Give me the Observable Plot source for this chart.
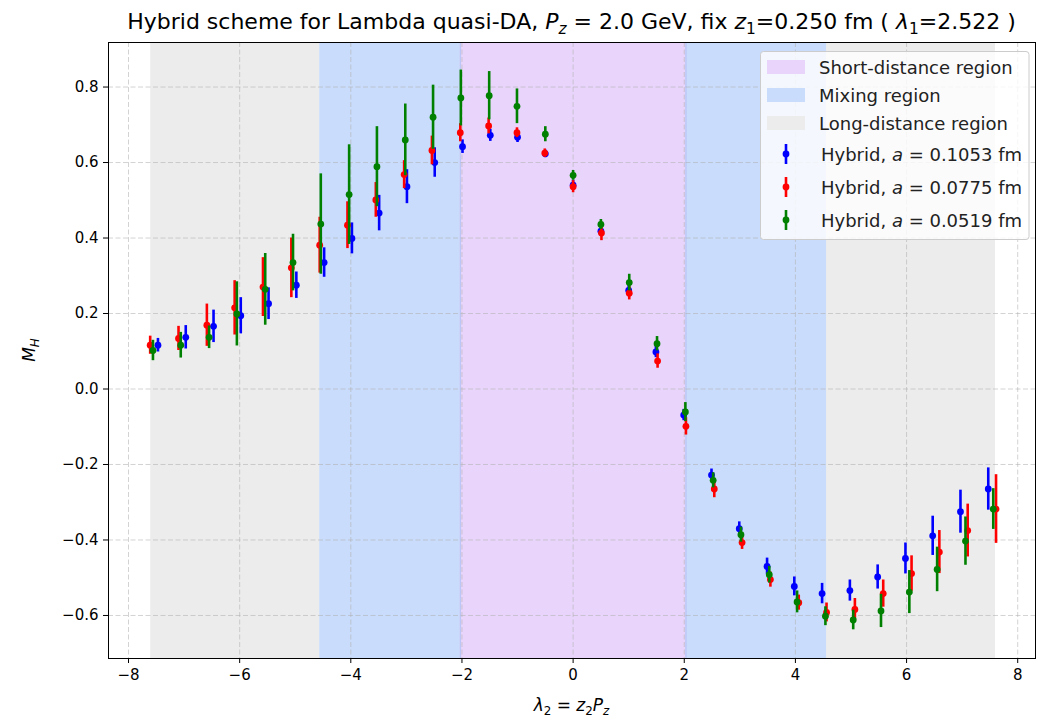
<!DOCTYPE html>
<html><head><meta charset="utf-8">
<script src="https://cdn.jsdelivr.net/npm/d3@7"></script>
<script src="https://cdn.jsdelivr.net/npm/@observablehq/plot@0.6"></script>
<style>
body{margin:0;background:#fff}
#chart svg{font-family:"DejaVu Sans",sans-serif;display:block}
</style>
</head><body><div id="chart"></div>
<script>
// ---- data ----
const xTicks = [-8, -6, -4, -2, 0, 2, 4, 6, 8];
const yTicks = [-0.6, -0.4, -0.2, 0.0, 0.2, 0.4, 0.6, 0.8];
const regionEdges = [-7.6, -4.56, -2.03, 2.03, 4.56, 7.6];
const regionNames = ["Short-distance region", "Mixing region", "Long-distance region"];

const xBlue = [-7.47,-6.97,-6.47,-5.98,-5.48,-4.98,-4.48,-3.98,-3.49,-2.99,-2.49,-1.99,-1.49,-1.00,-0.50,0,0.50,1.00,1.49,1.99,2.49,2.99,3.49,3.98,4.48,4.98,5.48,5.98,6.47,6.97,7.47];
const yBlue = [0.116,0.137,0.166,0.194,0.226,0.275,0.335,0.399,0.466,0.536,0.600,0.642,0.672,0.667,0.623,0.540,0.418,0.261,0.098,-0.069,-0.228,-0.370,-0.470,-0.523,-0.542,-0.534,-0.498,-0.449,-0.389,-0.325,-0.265];
const eBlue = [0.018,0.031,0.043,0.048,0.042,0.035,0.039,0.041,0.047,0.045,0.039,0.018,0.016,0.014,0.010,0.013,0.013,0.015,0.015,0.015,0.016,0.018,0.022,0.025,0.027,0.028,0.032,0.041,0.052,0.057,0.056];

const xRed = [-7.61,-7.10,-6.59,-6.09,-5.58,-5.07,-4.56,-4.06,-3.55,-3.04,-2.54,-2.03,-1.52,-1.01,-0.51,0,0.51,1.01,1.52,2.03,2.54,3.04,3.55,4.06,4.56,5.07,5.58,6.09,6.59,7.10,7.61];
const yRed = [0.116,0.134,0.169,0.215,0.270,0.321,0.381,0.434,0.501,0.568,0.632,0.679,0.697,0.679,0.625,0.536,0.413,0.254,0.074,-0.099,-0.265,-0.407,-0.505,-0.566,-0.592,-0.584,-0.542,-0.489,-0.432,-0.375,-0.318];
const eRed = [0.024,0.032,0.056,0.072,0.078,0.079,0.074,0.062,0.046,0.037,0.038,0.024,0.021,0.013,0.011,0.016,0.020,0.018,0.019,0.023,0.023,0.018,0.020,0.020,0.025,0.029,0.036,0.047,0.057,0.070,0.091];

const xGreen = [-7.56,-7.06,-6.55,-6.05,-5.54,-5.04,-4.54,-4.03,-3.53,-3.02,-2.52,-2.02,-1.51,-1.01,-0.50,0,0.50,1.01,1.51,2.02,2.52,3.02,3.53,4.03,4.54,5.04,5.54,6.05,6.55,7.06,7.56];
const yGreen = [0.102,0.116,0.137,0.199,0.264,0.335,0.437,0.515,0.589,0.660,0.720,0.771,0.777,0.749,0.675,0.566,0.436,0.282,0.120,-0.061,-0.242,-0.386,-0.492,-0.564,-0.602,-0.612,-0.588,-0.538,-0.478,-0.403,-0.318];
const eGreen = [0.027,0.034,0.030,0.085,0.095,0.075,0.133,0.132,0.106,0.095,0.085,0.074,0.064,0.046,0.020,0.013,0.013,0.022,0.019,0.025,0.020,0.020,0.022,0.029,0.025,0.026,0.044,0.057,0.059,0.064,0.054];

const seriesA = ["0.1053", "0.0775", "0.0519"];
const seriesColors = ["blue", "red", "green"];
const seriesX = [xBlue, xRed, xGreen];
const seriesY = [yBlue, yRed, yGreen];
const seriesE = [eBlue, eRed, eGreen];

// ---- build tables ----
const regionFill = {short: "#e9d5fb", mix: "#c9dcfb", long: "#ececec"};
const regions = [
  {x1: regionEdges[0], x2: regionEdges[1], fill: regionFill.long},
  {x1: regionEdges[4], x2: regionEdges[5], fill: regionFill.long},
  {x1: regionEdges[1], x2: regionEdges[2], fill: regionFill.mix},
  {x1: regionEdges[3], x2: regionEdges[4], fill: regionFill.mix},
  {x1: regionEdges[2], x2: regionEdges[3], fill: regionFill.short}
];
const series = seriesA.map((a, k) => ({
  a, color: seriesColors[k],
  rows: seriesX[k].map((x, i) => ({x, y: seriesY[k][i], e: seriesE[k][i]}))
}));

const W = 1037, H = 718;
const mL = 108, mR = 2, mT = 42, mB = 60;

const marks = [
  Plot.rect(regions, {x1: "x1", x2: "x2", fill: "fill"}),
  Plot.ruleX([regionEdges[2], regionEdges[3]], {stroke: "#bcc6f7", strokeWidth: 1.5}),
  Plot.ruleX(xTicks, {stroke: "#b0b0b0", strokeOpacity: 0.7, strokeWidth: 0.8, strokeDasharray: "5,2.5"}),
  Plot.ruleY(yTicks, {stroke: "#b0b0b0", strokeOpacity: 0.7, strokeWidth: 0.8, strokeDasharray: "5,2.5"})
];
for (const s of series) {
  marks.push(Plot.ruleX(s.rows, {x: "x", y1: d => d.y - d.e, y2: d => d.y + d.e, stroke: s.color, strokeWidth: 2.6}));
  marks.push(Plot.dot(s.rows, {x: "x", y: "y", r: 3.4, fill: s.color, stroke: "none"}));
}
marks.push(
  Plot.frame({stroke: "black", strokeWidth: 1}),
  Plot.axisX({ticks: xTicks, tickSize: 5, tickPadding: 6, label: null, tickFormat: d3.format("d")}),
  Plot.axisY({ticks: yTicks, tickSize: 5, tickPadding: 5, label: null, tickFormat: d3.format(".1f")})
);

const svg = Plot.plot({
  width: W, height: H,
  marginLeft: mL, marginRight: mR, marginTop: mT, marginBottom: mB,
  x: {domain: [-8.36, 8.32]},
  y: {domain: [-0.714, 0.918]},
  style: {fontFamily: "DejaVu Sans, sans-serif", fontSize: "15px", color: "black", background: "white"},
  marks
});
document.getElementById("chart").appendChild(svg);

// ---- rich text helper ----
function rich(g, parts, size) {
  let shift = 0;
  parts.forEach(p => {
    const ts = g.append("tspan").text(p.t);
    if (p.i) ts.attr("font-style", "italic");
    const want = p.s ? size * 0.22 : 0;
    if (want !== shift) { ts.attr("dy", want - shift); shift = want; }
    if (p.s) ts.attr("font-size", size * 0.7);
  });
}
const root = d3.select(svg);
const cx = (mL + (W - mR)) / 2;

// title
const tsize = 22;
const title = root.append("text").attr("x", cx).attr("y", 29).attr("text-anchor", "middle")
  .attr("font-size", tsize).attr("fill", "black");
rich(title, [
  {t: "Hybrid scheme for Lambda quasi-DA, "}, {t: "P", i: 1}, {t: "z", i: 1, s: 1},
  {t: " = 2.0 GeV, fix "}, {t: "z", i: 1}, {t: "1", s: 1}, {t: "=0.250 fm ( "},
  {t: "λ", i: 1}, {t: "1", s: 1}, {t: "=2.522 )"}
], tsize);

// x label
const lsize = 17;
const xl = root.append("text").attr("x", cx).attr("y", 711).attr("text-anchor", "middle")
  .attr("font-size", lsize).attr("fill", "black");
rich(xl, [{t: "λ", i: 1}, {t: "2", s: 1}, {t: " = "}, {t: "z", i: 1}, {t: "2", s: 1}, {t: "P", i: 1}, {t: "z", i: 1, s: 1}], lsize);

// y label
const yl = root.append("text").attr("transform", `translate(35,${(mT + H - mB) / 2}) rotate(-90)`)
  .attr("text-anchor", "middle").attr("font-size", lsize).attr("fill", "black");
rich(yl, [{t: "M", i: 1}, {t: "H", i: 1, s: 1}], lsize);

// legend
const fs = 18;
const lg = root.append("g").attr("text-anchor", "start");
lg.append("rect").attr("x", 760.5).attr("y", 51.5).attr("width", 268.5).attr("height", 188)
  .attr("rx", 3).attr("fill", "white").attr("fill-opacity", 0.8).attr("stroke", "#cccccc");
const patchFills = [regionFill.short, regionFill.mix, regionFill.long];
const rowY = [67, 95, 123, 154, 187, 220];
regionNames.forEach((name, i) => {
  lg.append("rect").attr("x", 767).attr("y", rowY[i] - 7).attr("width", 38).attr("height", 14)
    .attr("fill", patchFills[i]).attr("stroke", "none");
  lg.append("text").attr("x", 819).attr("y", rowY[i] + 6.5).attr("text-anchor", "start")
    .attr("font-size", fs).attr("fill", "#222").text(name);
});
series.forEach((s, k) => {
  const y = rowY[3 + k];
  lg.append("line").attr("x1", 786).attr("x2", 786).attr("y1", y - 10).attr("y2", y + 10)
    .attr("stroke", s.color).attr("stroke-width", 2.6);
  lg.append("circle").attr("cx", 786).attr("cy", y).attr("r", 3.4).attr("fill", s.color);
  const t = lg.append("text").attr("x", 821).attr("y", y + 6.5).attr("text-anchor", "start")
    .attr("font-size", fs).attr("fill", "#222");
  rich(t, [{t: "Hybrid, "}, {t: "a", i: 1}, {t: " = " + s.a + " fm"}], fs);
});
</script></body></html>
